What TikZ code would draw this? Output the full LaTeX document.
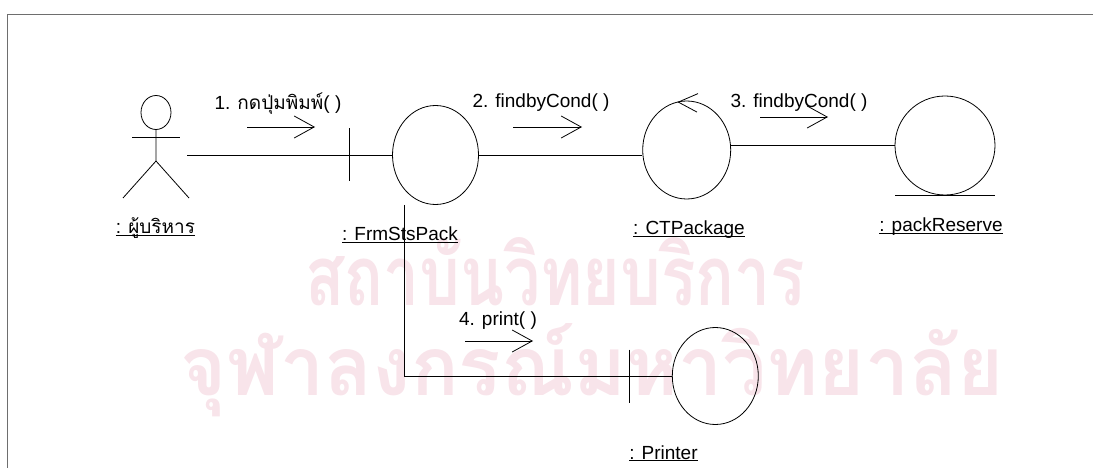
\documentclass[tikz,border=0pt]{standalone}
\usepackage{fontspec}
\setmainfont{Liberation Sans}
\newfontfamily\thaifont[Script=Thai]{Loma}
\usetikzlibrary{calc,arrows.meta}
\usetikzlibrary{shapes.geometric}
\definecolor{cd-frame}{HTML}{6E6E6E}
\definecolor{cd-mark}{HTML}{F8E4EA}
\newcommand{\objname}[1]{\underline{\smash{#1}}}

\begin{document}
\begin{tikzpicture}[x=1pt, y=-1pt, line width=0.8pt,
    font=\fontsize{19}{22}\selectfont,
    obj/.style={draw, ellipse, inner sep=0pt, minimum width=86pt, minimum height=99pt},
    namelbl/.style={anchor=base, inner sep=0pt},
    msg/.style={-{Straight Barb[length=20pt, width=22pt]}}]
    \useasboundingbox (0,0) rectangle (1093,468);
    \node[cd-mark, anchor=base west, inner sep=0pt] (mark1) at (305,305) {\resizebox{500pt}{68pt}{\thaifont\bfseries สถาบันวิทยบริการ}};
    \node[cd-mark, anchor=base west, inner sep=0pt] (mark2) at (180,395) {\resizebox{823pt}{72pt}{\thaifont\bfseries จุฬาลงกรณ์มหาวิทยาลัย}};
    \draw[cd-frame, line width=1.5pt] (7.5,468) -- (7.5,14.5) -- (1093,14.5);

    \node[minimum width=62pt, minimum height=120pt, inner sep=0pt] (admin) at (156,155) {};
    \draw (156,112.5) ellipse (15 and 17);
    \draw (132,137.5) -- (180,137.5);
    \draw (156,129.5) -- (156,161) -- (123,198);
    \draw (156,161) -- (189,198);

    \node[obj] (frm) at (435.5,155) {};
    \node[obj, minimum width=88pt, minimum height=98pt] (ctp) at (686.7,150) {};
    \node[obj, minimum width=100pt, minimum height=99pt] (pr) at (945,145.5) {};
    \node[obj, minimum height=97pt] (prn) at (715.3,376) {};

    \draw ($(frm.west)+(-42.5,-26.5)$) -- ++(0,53);
    \draw ($(prn.west)+(-42.5,-26.5)$) -- ++(0,53);
    \draw ($(ctp.north)+(11.3,-7)$) -- ($(ctp.north)+(-8.4,1.5)$) -- ($(ctp.north)+(10.3,11.5)$);
    \draw ([xshift=-50pt]pr.south) -- ([xshift=50pt]pr.south);

    \draw (admin.east) -- (frm.west);
    \draw (frm.east) -- (frm.east -| ctp.west);
    \draw (pr.west -| ctp.east) -- (pr.west);
    \draw ([xshift=-31pt]frm.south) |- (prn.west);

    \node[namelbl] (adminname) at (155.5,233.5) {\objname{: {\thaifont ผู้บริหาร}}};
    \node[namelbl] (frmname) at (400,240.5) {\objname{: FrmStsPack}};
    \node[namelbl] (ctpname) at (689,234.3) {\objname{: CTPackage}};
    \node[namelbl] (prname) at (941,231.7) {\objname{: packReserve}};
    \node[namelbl] (prnname) at (663.5,459) {\objname{: Printer}};

    \node[anchor=base] (m1) at (278,110) {1. {\thaifont กดปุ่มพิมพ์}( )};
    \node[anchor=base] (m2) at (541,108) {2. findbyCond( )};
    \node[anchor=base] (m3) at (799,108) {3. findbyCond( )};
    \node[anchor=base] (m4) at (498,325) {4. print( )};
    \draw[msg] ([shift={(-31,17)}]m1.base) -- ++(68,0);
    \draw[msg] ([shift={(-28,19)}]m2.base) -- ++(69,0);
    \draw[msg] ([shift={(-39,9)}]m3.base) -- ++(68,0);
    \draw[msg] ([shift={(-33,16)}]m4.base) -- ++(68,0);
\end{tikzpicture}
\end{document}
